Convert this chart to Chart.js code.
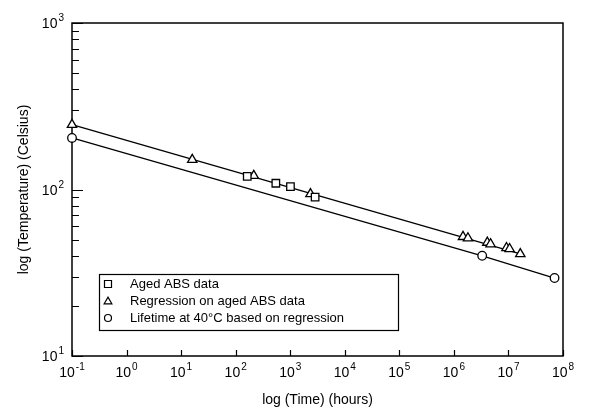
<!DOCTYPE html>
<html>
<head>
<meta charset="utf-8">
<script src="https://cdn.jsdelivr.net/npm/chart.js@4"></script>
<style>
  html, body { margin: 0; padding: 0; background: #fff; }
  canvas { display: block; }
</style>
</head>
<body>
<canvas id="chart" width="613" height="414"></canvas>
<script>
// aged ABS measurements (hours, deg C)
const agedTime = [163, 545, 1010, 2860];
const agedTemp = [120, 109, 104, 90];

// regression points
const regTime = [0.1, 16, 215, 2350, 1.47e6, 1.81e6, 4.1e6, 4.7e6, 9.2e6, 1.05e7, 1.65e7];
const regTemp = [245, 151, 121, 94, 52, 51, 48, 47, 44.6, 44, 41];

// lifetime at 40C
const lifeTime = [0.1, 3.3e6, 7.0e7];
const lifeTemp = [204, 40, 29.4];

// regression line end points
const regLineTime = [0.1, 1.65e7];
const regLineTemp = [245, 41];

const xExps = [-1, 0, 1, 2, 3, 4, 5, 6, 7, 8];
const yExps = [1, 2, 3];

const labels = [
  'Aged ABS data',
  'Regression on aged ABS data',
  'Lifetime at 40\u00B0C based on regression'
];

const pts = (xs, ys) => xs.map((t, i) => ({ x: t, y: ys[i] }));
const FONT = '"Liberation Sans", Arial, sans-serif';

function drawPow(ctx, exp, x, y, align) {
  ctx.font = '14px ' + FONT;
  const w1 = ctx.measureText('10').width;
  ctx.font = '10px ' + FONT;
  const w2 = ctx.measureText(String(exp)).width;
  const total = w1 + w2 + 1;
  let sx = align === 'right' ? x - total : x - total / 2;
  ctx.textAlign = 'left';
  ctx.textBaseline = 'alphabetic';
  ctx.font = '14px ' + FONT;
  ctx.fillText('10', sx, y);
  ctx.font = '10px ' + FONT;
  ctx.fillText(String(exp), sx + w1 + 1, y - 7);
}

function marker(ctx, style, x, y, r) {
  ctx.beginPath();
  if (style === 'rect') {
    ctx.rect(x - r, y - r, 2 * r, 2 * r);
  } else if (style === 'triangle') {
    ctx.moveTo(x, y - r * 1.1);
    ctx.lineTo(x + r * 1.1, y + r * 0.8);
    ctx.lineTo(x - r * 1.1, y + r * 0.8);
    ctx.closePath();
  } else {
    ctx.arc(x, y, r, 0, Math.PI * 2);
  }
  ctx.fillStyle = '#fff';
  ctx.fill();
  ctx.stroke();
}

const framePlugin = {
  id: 'frame',
  beforeDatasetsDraw(chart) {
    const { ctx, chartArea: a, scales: { x, y } } = chart;
    ctx.save();
    ctx.strokeStyle = '#000';
    ctx.lineWidth = 1.5;
    ctx.strokeRect(a.left, a.top, a.right - a.left, a.bottom - a.top);
    ctx.lineWidth = 1.2;
    ctx.beginPath();
    xExps.forEach(e => {
      const px = Math.round(x.getPixelForValue(Math.pow(10, e))) + 0.5;
      ctx.moveTo(px, a.bottom);
      ctx.lineTo(px, a.bottom - 6);
    });
    yExps.forEach((e, i) => {
      const py = Math.round(y.getPixelForValue(Math.pow(10, e))) + 0.5;
      ctx.moveTo(a.left, py);
      ctx.lineTo(a.left + 11, py);
      if (i < yExps.length - 1) {
        for (let m = 2; m <= 9; m++) {
          const pm = Math.round(y.getPixelForValue(m * Math.pow(10, e))) + 0.5;
          ctx.moveTo(a.left, pm);
          ctx.lineTo(a.left + 7, pm);
        }
      }
    });
    ctx.stroke();
    ctx.restore();
  },
  afterDraw(chart) {
    const { ctx, chartArea: a, scales: { x, y } } = chart;
    ctx.save();
    ctx.fillStyle = '#000';
    xExps.forEach(e => drawPow(ctx, e, x.getPixelForValue(Math.pow(10, e)), a.bottom + 21, 'center'));
    yExps.forEach(e => drawPow(ctx, e, a.left - 8, y.getPixelForValue(Math.pow(10, e)) + 5, 'right'));

    // axis titles
    ctx.font = '14px ' + FONT;
    ctx.textAlign = 'center';
    ctx.textBaseline = 'middle';
    ctx.fillText('log (Time) (hours)', (a.left + a.right) / 2, 400);
    ctx.save();
    ctx.translate(24, (a.top + a.bottom) / 2);
    ctx.rotate(-Math.PI / 2);
    ctx.fillText('log (Temperature) (Celsius)', 0, 0);
    ctx.restore();

    // legend
    const lx = 99, ly = 274, lw = 299, lh = 56;
    ctx.strokeStyle = '#000';
    ctx.lineWidth = 1.2;
    ctx.strokeRect(lx + 0.5, ly + 0.5, lw, lh);
    const styles = ['rect', 'triangle', 'circle'];
    ctx.font = '13px ' + FONT;
    ctx.textAlign = 'left';
    ctx.textBaseline = 'middle';
    chart.data.datasets.slice(0, 3).forEach((ds, i) => {
      const cy = ly + 10 + i * 17;
      ctx.lineWidth = 1.2;
      marker(ctx, styles[i], lx + 9, cy, 3.5);
      ctx.fillStyle = '#000';
      ctx.fillText(ds.label, lx + 31, cy);
    });
    ctx.restore();
  }
};

const common = {
  borderColor: '#000',
  backgroundColor: '#fff',
  pointBorderColor: '#000',
  pointBackgroundColor: '#fff',
  pointBorderWidth: 1.3,
  borderWidth: 1.3,
  clip: false
};

new Chart(document.getElementById('chart'), {
  type: 'scatter',
  data: {
    datasets: [
      { ...common, label: labels[0], data: pts(agedTime, agedTemp), pointStyle: 'rect', pointRadius: 5.3, showLine: false },
      { ...common, label: labels[1], data: pts(regTime, regTemp), pointStyle: 'triangle', pointRadius: 5.4, showLine: false },
      { ...common, label: labels[2], data: pts(lifeTime, lifeTemp), pointStyle: 'circle', pointRadius: 4.3, showLine: true },
      { ...common, label: '', data: pts(regLineTime, regLineTemp), pointRadius: 0, showLine: true }
    ]
  },
  options: {
    responsive: false,
    animation: false,
    devicePixelRatio: 1,
    layout: { padding: { top: 23, right: 50, left: 0, bottom: 0 } },
    plugins: { legend: { display: false }, tooltip: { enabled: false } },
    scales: {
      x: {
        type: 'logarithmic', min: 0.1, max: 1e8,
        ticks: { display: false }, grid: { display: false }, border: { display: false },
        afterFit: s => { s.height = 58; }
      },
      y: {
        type: 'logarithmic', min: 10, max: 1000,
        ticks: { display: false }, grid: { display: false }, border: { display: false },
        afterFit: s => { s.width = 72; }
      }
    }
  },
  plugins: [framePlugin]
});
</script>
</body>
</html>
